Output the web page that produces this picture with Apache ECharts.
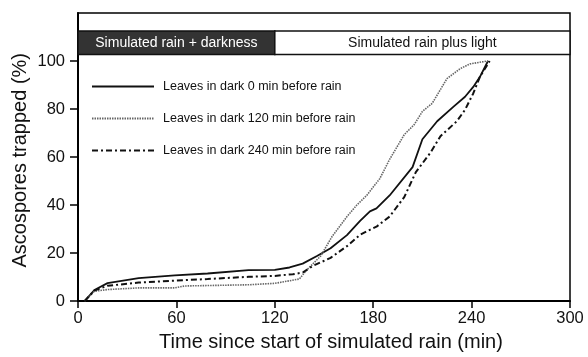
<!DOCTYPE html>
<html><head><meta charset="utf-8">
<script src="https://cdn.jsdelivr.net/npm/echarts@6/dist/echarts.min.js"></script>
<style>html,body{margin:0;padding:0;background:#fff}#c{width:588px;height:357px}</style>
</head><body><div id="c"></div>
<script>
const seriesNames = ['Leaves in dark 0 min before rain','Leaves in dark 120 min before rain','Leaves in dark 240 min before rain'];
const dark0 = [[4,0],[10,4.6],[18,7.5],[37,9.6],[59,10.7],[79,11.5],[104,12.9],[120,13.0],[129,14],[137,15.6],[146,18.9],[154,22],[164,27.5],[172,33.4],[178,37.4],[182,38.6],[190,44],[204,55.8],[210,67.4],[219,74.9],[229,81],[236,85.1],[241,89.2],[245,93.3],[250,100]];
const dark120 = [[4,0],[10,4.1],[18,4.8],[37,5.5],[59,5.5],[65,6.3],[104,6.8],[120,7.4],[135,9.2],[139,12.6],[148,18.8],[155,27],[164,35.2],[170,40],[176,44],[184,51],[190,59],[199,69.4],[205,73.5],[210,79],[216,82.4],[225,92.7],[233,96.8],[239,98.8],[245,99.5],[250,100]];
const dark240 = [[4,0],[10,4.4],[18,6.4],[37,7.7],[59,8.5],[79,9.2],[104,10.1],[120,10.5],[131,11.2],[137,11.9],[143,14.6],[154,18],[164,22.9],[172,27.6],[178,29.7],[182,31],[190,35.2],[199,43.4],[206,53.7],[215,61.9],[221,68.7],[231,74.9],[236,79.7],[241,86.5],[245,93.3],[251,100]];
const xTicks = [0,60,120,180,240,300];
const yTicks = [0,20,40,60,80,100];
const bands = [{label:'Simulated rain + darkness', from:0, to:120},{label:'Simulated rain plus light', from:120, to:300}];
const bandY = [102.7, 112.5];

const chart = echarts.init(document.getElementById('c'));
const font = 'Liberation Sans, Arial, sans-serif';
chart.setOption({
  animation:false,
  grid:{left:78,right:18,top:13,bottom:53,show:true,borderColor:'#000',borderWidth:1.5},
  xAxis:{type:'value',min:0,max:300,interval:60,
    axisLine:{lineStyle:{color:'#000',width:2}},
    axisTick:{length:7,lineStyle:{color:'#000',width:1.5},customValues:xTicks},
    axisLabel:{color:'#111',fontSize:16.5,fontFamily:font,margin:9,customValues:xTicks},
    splitLine:{show:false},
    name:'Time since start of simulated rain (min)',nameLocation:'middle',nameGap:30,
    nameTextStyle:{color:'#111',fontSize:20,fontFamily:font,padding:[0,0,0,14]}},
  yAxis:{type:'value',min:0,max:120,interval:20,
    axisLine:{show:true,lineStyle:{color:'#000',width:2}},
    axisTick:{show:true,length:8,lineStyle:{color:'#000',width:1.5},customValues:yTicks},
    axisLabel:{color:'#111',fontSize:16.5,fontFamily:font,margin:13,customValues:yTicks},
    splitLine:{show:false}},
  legend:{orient:'vertical',left:86,top:75,itemWidth:62,itemHeight:12,itemGap:19,
    data:seriesNames,
    itemStyle:{opacity:0},
    textStyle:{fontSize:12.5,fontFamily:font,color:'#111',padding:[0,0,0,4]}},
  graphic:[{type:'text',left:10,top:53,rotation:Math.PI/2,
    style:{text:'Ascospores trapped (%)',font:'20px '+font,fill:'#111'}}],
  series:[
    {name:seriesNames[0],type:'line',data:dark0,showSymbol:false,symbol:'none',
     lineStyle:{color:'#111',width:1.8,type:'solid'},itemStyle:{color:'#111'},
     markArea:{silent:true,data:bands.map((b,i)=>[
       {xAxis:b.from,yAxis:bandY[0],
        itemStyle:{color:i===0?'#333':'#fff',borderColor:'#111',borderWidth:1.5},
        label:{show:true,position:'inside',formatter:b.label,color:i===0?'#fff':'#111',fontSize:14,fontFamily:font}},
       {xAxis:b.to,yAxis:bandY[1]}])}},
    {name:seriesNames[1],type:'line',data:dark120,showSymbol:false,symbol:'none',
     lineStyle:{color:'#666',width:1.6,type:[1.5,1]},itemStyle:{color:'#666'}},
    {name:seriesNames[2],type:'line',data:dark240,showSymbol:false,symbol:'none',
     lineStyle:{color:'#111',width:2,type:[6,3,2,3]},itemStyle:{color:'#111'}}
  ]
});
</script></body></html>
